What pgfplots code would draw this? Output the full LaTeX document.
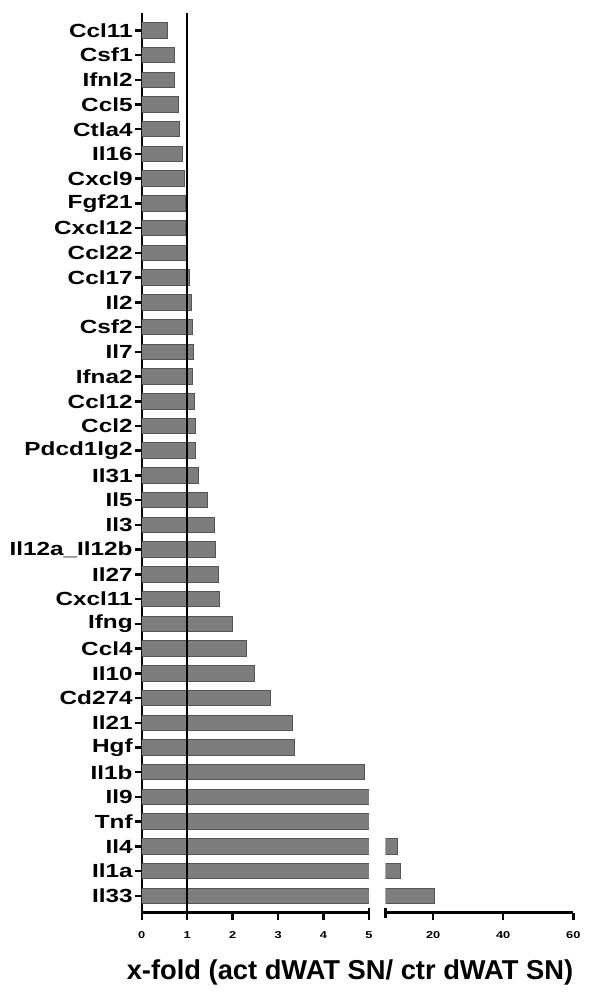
\documentclass[border=0pt]{standalone}
\usepackage{fontspec}
\setmainfont{Liberation Sans}
\newfontfamily\widesans{Liberation Sans}[FakeStretch=1.28]
\usepackage{pgfplots}
\usepackage{pgfplotstable}
\pgfplotsset{compat=1.18}

\definecolor{barfill}{RGB}{125,125,125}
\definecolor{baredge}{RGB}{85,85,85}

% x-fold per cytokine, top (0) to bottom (35)
\pgfplotstableread{
idx val
0 0.56
1 0.71
2 0.71
3 0.80
4 0.83
5 0.89
6 0.93
7 0.97
8 0.97
9 0.98
10 1.05
11 1.10
12 1.12
13 1.13
14 1.12
15 1.17
16 1.19
17 1.19
18 1.24
19 1.44
20 1.59
21 1.62
22 1.69
23 1.71
24 1.99
25 2.31
26 2.48
27 2.83
28 3.31
29 3.37
30 4.90
31 5.5
32 5.8
33 9.83
34 10.7
35 20.3
}\foldtable

\pgfplotsset{
  brokenx/.style={
    scale only axis,
    anchor=south west,
    height=899.7pt,
    y dir=reverse,
    ymin=-0.7, ymax=35.68,
    axis x line=bottom,
    axis line style={line width=2.5pt, -},
    x axis line style={-},
    tick align=outside,
    major tick length=7pt,
    every tick/.style={black, line width=2.5pt},
    major tick style={black, line width=2.5pt},
    /pgf/number format/assume math mode=true,
    xticklabel style={font=\widesans\bfseries\fontsize{10}{10}\selectfont, inner sep=0pt, yshift=-12pt},
    extra x tick labels={},
    extra x tick style={tick align=center, major tick length=10pt},
  },
  foldbar/.style={xbar, bar width=15.5pt, fill=barfill, draw=baredge, line width=1pt},
}

\begin{document}
\begin{tikzpicture}
\path[use as bounding box] (0,0) rectangle (590pt,994pt);

\begin{axis}[
    brokenx,
    at={(141.8pt,81.3pt)},
    width=227.2pt,
    xmin=0, xmax=5,
    xtick={0,1,2,3,4,5},
    extra x ticks={5},
    axis y line=left,
    y axis line style={-},
    tick align=outside,
    ytick={0,...,35},
    yticklabels={Ccl11,Csf1,Ifnl2,Ccl5,Ctla4,Il16,Cxcl9,Fgf21,Cxcl12,Ccl22,
      Ccl17,Il2,Csf2,Il7,Ifna2,Ccl12,Ccl2,Pdcd1lg2,Il31,Il5,Il3,Il12a\_Il12b,
      Il27,Cxcl11,Ifng,Ccl4,Il10,Cd274,Il21,Hgf,Il1b,Il9,Tnf,Il4,Il1a,Il33},
    yticklabel style={font=\widesans\bfseries\fontsize{19}{19}\selectfont, inner sep=0pt, xshift=-2pt},
]
\addplot[foldbar] table[x=val, y=idx] {\foldtable};
\draw[line width=1.8pt] (axis cs:1,-0.7) -- (axis cs:1,35.68);
\end{axis}

\begin{axis}[
    brokenx,
    at={(385.5pt,81.3pt)},
    width=187.8pt,
    xmin=6.4, xmax=60,
    xtick={20,40,60},
    extra x ticks={6.4},
    axis y line=none,
    ytick=\empty,
]
\addplot[foldbar, restrict x to domain=6.4:100] table[x=val, y=idx] {\foldtable};
\end{axis}

\node[anchor=base, font=\bfseries\fontsize{27.3}{27.3}\selectfont] at (350pt,15pt)
  {x-fold (act dWAT SN/ ctr dWAT SN)};
\end{tikzpicture}
\end{document}
